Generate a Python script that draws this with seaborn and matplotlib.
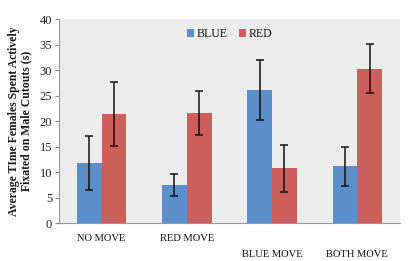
import matplotlib
matplotlib.use("Agg")
import matplotlib.pyplot as plt
import seaborn as sns
import pandas as pd
import numpy as np

categories = ["NO MOVE", "RED MOVE", "BLUE MOVE", "BOTH MOVE"]
series = ["BLUE", "RED"]
blue_vals = [11.8, 7.5, 26.1, 11.2]
red_vals = [21.4, 21.6, 10.8, 30.3]
blue_err = [5.3, 2.1, 5.8, 3.8]
red_err = [6.3, 4.4, 4.6, 4.8]
yticks = [0, 5, 10, 15, 20, 25, 30, 35, 40]

df = pd.DataFrame({
    "cat": categories * 2,
    "val": blue_vals + red_vals,
    "series": ["BLUE"] * 4 + ["RED"] * 4,
})

sns.set_style("white")
plt.rcParams["font.family"] = ["Liberation Serif", "DejaVu Serif"]

fig = plt.figure(figsize=(4.11, 2.61), dpi=100)
ax = fig.add_axes([0.1436, 0.1444, 0.973 - 0.1436, 0.927 - 0.1444])
ax.set_facecolor("#ececec")

sns.barplot(data=df, x="cat", y="val", hue="series", order=categories,
            hue_order=series, palette=["#5b8fc9", "#cc5f5b"], width=0.58,
            errorbar=None, saturation=1, edgecolor="none", ax=ax)

for cont, err in zip(ax.containers, [blue_err, red_err]):
    xs = [p.get_x() + p.get_width() / 2 for p in cont]
    ys = [p.get_height() for p in cont]
    ax.errorbar(xs, ys, yerr=err, fmt="none", ecolor="#111111",
                elinewidth=1.1, capsize=3, capthick=1.1)

ax.set_ylim(0, 40)
ax.set_xlim(-0.5, 3.5)
ax.set_yticks(yticks)
ax.set_yticklabels([str(t) for t in yticks], fontsize=9, color="#222222")
ax.set_xlabel("")
ax.set_ylabel("Average TIme Females Spent Actively\nFixated on Male Cutouts (s)",
              fontsize=8.5, fontweight="bold", color="#1a1a1a", labelpad=5,
              linespacing=1.1)

ax.set_xticks(range(4))
ax.set_xticklabels(categories, fontsize=7.6, color="#111111")
ax.set_xticks([-0.5, 0.5, 1.5, 2.5, 3.5], minor=True)
ax.tick_params(axis="x", which="major", length=0)
ax.tick_params(axis="x", which="minor", length=4, direction="out", color="#888888", width=0.8)
ax.tick_params(axis="y", length=3, direction="out", color="#888888", width=0.8, pad=2, left=True)
ticks = ax.xaxis.get_major_ticks()
for i, t in enumerate(ticks):
    t.set_pad(8 if i < 2 else 19)

for s in ["top", "right"]:
    ax.spines[s].set_visible(False)
for s in ["left", "bottom"]:
    ax.spines[s].set_color("#999999")
    ax.spines[s].set_linewidth(0.8)

leg = ax.legend(loc="upper center", bbox_to_anchor=(0.5, 0.99), ncol=2,
                frameon=False, fontsize=8.5, handlelength=0.6, handleheight=0.6,
                handletextpad=0.2, columnspacing=1.0, borderaxespad=0.2)
for t in leg.get_texts():
    t.set_color("#111111")

fig.savefig("out.png", dpi=100, facecolor="white")
